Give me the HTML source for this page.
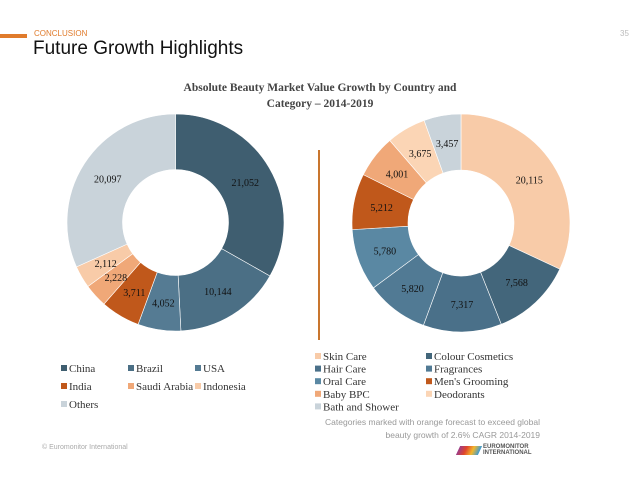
<!DOCTYPE html>
<html><head><meta charset="utf-8"><style>
body{margin:0;background:#fff;}
#wrap{position:relative;width:638px;height:479px;overflow:hidden;font-family:"Liberation Sans",sans-serif;}
.serif{font-family:"Liberation Serif",serif;}
</style></head><body>
<div id="wrap">
<div style="position:absolute;left:0;top:34px;width:27px;height:4px;background:#e07b2c"></div>
<div style="position:absolute;left:34px;top:29px;font-size:8px;color:#e07b2c">CONCLUSION</div>
<div style="position:absolute;left:620px;top:29px;font-size:8px;color:#bbb">35</div>
<div style="position:absolute;left:33px;top:38px;font-size:19px;color:#111">Future Growth Highlights</div>
<div class="serif" style="position:absolute;left:120px;top:80px;width:400px;text-align:center;font-size:11.5px;font-weight:bold;color:#444;line-height:16px">Absolute Beauty Market Value Growth by Country and<br>Category – 2014-2019</div>
<div style="position:absolute;left:318px;top:150px;width:1.5px;height:190px;background:#c9762e"></div>
<svg id="svg" width="638" height="479" style="position:absolute;left:0;top:0"></svg>
<div style="position:absolute;left:290px;top:416px;width:250px;text-align:right;font-size:8.5px;color:#999;line-height:13px">Categories marked with orange forecast to exceed global<br>beauty growth of 2.6% CAGR 2014-2019</div>
<div style="position:absolute;left:42px;top:444px;font-size:7px;color:#aaa">© Euromonitor International</div>
<div style="position:absolute;left:458px;top:444px;display:flex;align-items:center;gap:3px">
<div style="width:22px;height:9px;background:linear-gradient(90deg,#9b3c8a,#e0452b,#f2b72c,#3a9bd5);transform:skewX(-25deg)"></div>
<div style="font-size:6px;font-weight:bold;color:#555;line-height:6px">EUROMONITOR<br>INTERNATIONAL</div></div>
</div>
<script>
const countryNames=["China","Brazil","USA","India","Saudi Arabia","Indonesia","Others"];
const countryValues=[21052,10144,4052,3711,2228,2112,20097];
const countryColors=["#3f5e70","#4b6f85","#557b93","#c0581b","#f0a878","#f8cba8","#c9d3da"];
const catNames=["Skin Care","Colour Cosmetics","Hair Care","Fragrances","Oral Care","Men's Grooming","Baby BPC","Deodorants","Bath and Shower"];
const catValues=[20115,7568,7317,5820,5780,5212,4001,3675,3457];
const catColors=["#f8cba8","#43667b","#4a7089","#517a94","#5a88a3","#c0581b","#f0a878","#fbd5b5","#c9d3da"];
const NS="http://www.w3.org/2000/svg";
const svg=document.getElementById('svg');
const fmt=v=>v.toLocaleString('en-US');
function donut(cx,cy,R,r,vals,cols,prefix){
  const tot=vals.reduce((a,b)=>a+b,0);let a0=0;
  vals.forEach((v,i)=>{
    const a1=a0+v/tot*2*Math.PI;
    const p=(a,rad)=>[cx+rad*Math.sin(a),cy-rad*Math.cos(a)];
    const [x1,y1]=p(a0,R),[x2,y2]=p(a1,R),[x3,y3]=p(a1,r),[x4,y4]=p(a0,r);
    const lg=(a1-a0)>Math.PI?1:0;
    const path=document.createElementNS(NS,'path');
    path.setAttribute('d',`M${x1},${y1}A${R},${R} 0 ${lg} 1 ${x2},${y2}L${x3},${y3}A${r},${r} 0 ${lg} 0 ${x4},${y4}Z`);
    path.setAttribute('fill',cols[i]);path.setAttribute('stroke','#fff');path.setAttribute('stroke-width','0.6');
    
    
    svg.appendChild(path);
    const am=(a0+a1)/2;const [lx,ly]=p(am,(R+r)/2);
    const t=document.createElementNS(NS,'text');
    t.setAttribute('x',lx);t.setAttribute('y',ly+4);t.setAttribute('text-anchor','middle');
    t.setAttribute('font-family','Liberation Serif, serif');t.setAttribute('font-size','10');t.setAttribute('fill','#111');
    t.textContent=fmt(v);
    
    
    svg.appendChild(t);
    a0=a1;
  });
}
donut(175.5,222.5,108.5,53,countryValues,countryColors,'country');
donut(461,223,109,53,catValues,catColors,'category');
function legend(names,cols,x0,y0,colW,rowH,ncol,prefix){
  names.forEach((n,i)=>{
    const x=x0+(i%ncol)*colW,y=y0+Math.floor(i/ncol)*rowH;
    const g=document.createElementNS(NS,'g');
    
    
    const rc=document.createElementNS(NS,'rect');
    rc.setAttribute('x',x);rc.setAttribute('y',y-7);rc.setAttribute('width',6);rc.setAttribute('height',6);rc.setAttribute('fill',cols[i]);
    g.appendChild(rc);
    const t=document.createElementNS(NS,'text');
    t.setAttribute('x',x+8);t.setAttribute('y',y);t.setAttribute('font-family','Liberation Serif, serif');t.setAttribute('font-size','11');t.setAttribute('fill','#333');
    t.textContent=n;g.appendChild(t);svg.appendChild(g);
  });
}
legend(countryNames,countryColors,61,372,67,18,3,'country');
legend(catNames,catColors,315,360,111,12.6,2,'category');
</script>
</body></html>
